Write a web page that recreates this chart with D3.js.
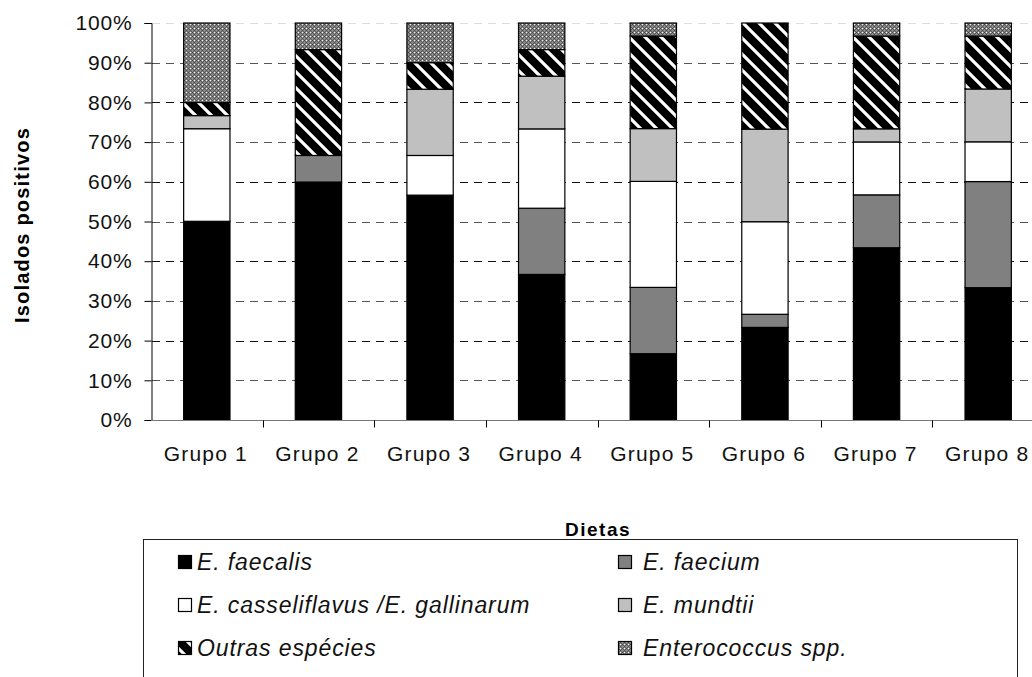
<!DOCTYPE html>
<html>
<head>
<meta charset="utf-8">
<script src="https://cdn.jsdelivr.net/npm/d3@7"></script>
<style>
  body { margin: 0; background: #fff; }
  svg { display: block; font-family: "Liberation Sans", Arial, sans-serif; }
</style>
</head>
<body>
<div id="chart"></div>
<script>
// categories and series (% of positive isolates)
const groups = ['Grupo 1', 'Grupo 2', 'Grupo 3', 'Grupo 4', 'Grupo 5', 'Grupo 6', 'Grupo 7', 'Grupo 8'];
const faecalis = [50, 60, 56.7, 36.7, 16.7, 23.3, 43.3, 33.3];
const faecium = [0, 6.7, 0, 16.7, 16.7, 3.3, 13.3, 26.7];
const casseliflavus = [23.3, 0, 10, 20, 26.7, 23.3, 13.3, 10];
const mundtii = [3.3, 0, 16.7, 13.3, 13.3, 23.3, 3.3, 13.3];
const outras = [3.3, 26.7, 6.7, 6.7, 23.3, 26.7, 23.3, 13.3];
const enteroSpp = [20, 6.7, 10, 6.7, 3.3, 0, 3.3, 3.3];
const yTicks = [0, 0.1, 0.2, 0.3, 0.4, 0.5, 0.6, 0.7, 0.8, 0.9, 1];

const seriesKeys = ['faecalis', 'faecium', 'cass', 'mundtii', 'outras', 'spp'];
const seriesNames = ['E. faecalis', 'E. faecium', 'E. casseliflavus /E. gallinarum', 'E. mundtii', 'Outras espécies', 'Enterococcus spp.'];

const table = groups.map((g, i) => ({
    group: g,
    faecalis: faecalis[i],
    faecium: faecium[i],
    cass: casseliflavus[i],
    mundtii: mundtii[i],
    outras: outras[i],
    spp: enteroSpp[i]
}));

const width = 1032;
const height = 677;

const svg = d3.select('#chart')
    .append('svg')
        .attr('width', width)
        .attr('height', height);

// patterns for the two hatched series
const defs = svg.append('defs');
const stripe = defs.append('pattern')
    .attr('id', 'stripes')
    .attr('patternUnits', 'userSpaceOnUse')
    .attr('width', 16)
    .attr('height', 16);
stripe.append('rect').attr('width', 16).attr('height', 16).attr('fill', '#000');
stripe.append('path')
    .attr('d', 'M-2,-2 L18,18 M-2,14 L2,18 M14,-2 L18,2')
    .attr('stroke', '#fff')
    .attr('stroke-width', 3.2);

const dots = defs.append('pattern')
    .attr('id', 'dots')
    .attr('patternUnits', 'userSpaceOnUse')
    .attr('width', 4)
    .attr('height', 4);
dots.append('rect').attr('width', 4).attr('height', 4).attr('fill', '#8a8a8a');
[[0, 0], [2, 2]].forEach(p => dots.append('rect').attr('x', p[0]).attr('y', p[1]).attr('width', 1).attr('height', 1).attr('fill', '#444'));
[[1, 1], [3, 3], [1, 3], [3, 1]].forEach(p => dots.append('rect').attr('x', p[0]).attr('y', p[1]).attr('width', 1).attr('height', 1).attr('fill', '#5c5c5c'));
dots.append('rect').attr('x', 2).attr('y', 0).attr('width', 1).attr('height', 1).attr('fill', '#fff');

const fills = {
    faecalis: '#000',
    faecium: '#808080',
    cass: '#fff',
    mundtii: '#c0c0c0',
    outras: 'url(#stripes)',
    spp: 'url(#dots)'
};

// scales
const xScale = d3.scaleBand()
    .domain(groups)
    .range([151, 1044])
    .padding(0);

const yScale = d3.scaleLinear()
    .domain([0, 1])
    .range([420, 23]);

const barW = xScale.bandwidth() * 0.415;

// gridlines
svg.append('g')
    .selectAll('line')
    .data(yTicks.filter(t => t > 0))
    .enter()
        .append('line')
            .attr('x1', 152)
            .attr('x2', width)
            .attr('y1', d => Math.round(yScale(d)) + 0.5)
            .attr('y2', d => Math.round(yScale(d)) + 0.5)
            .attr('stroke', (d, i) => d === 1 ? '#ddd' : (i % 2 === 0 ? '#555' : '#111'))
            .attr('stroke-dasharray', '8,6');

// stacked bars (100% stacked)
const stack = d3.stack().keys(seriesKeys).offset(d3.stackOffsetExpand);
const layers = stack(table);

svg.append('g')
    .selectAll('g')
    .data(layers)
    .enter()
        .append('g')
            .attr('fill', d => fills[d.key])
        .selectAll('rect')
        .data(d => d)
        .enter()
            .append('rect')
                .attr('x', d => xScale(d.data.group) + (xScale.bandwidth() - barW) / 2)
                .attr('y', d => yScale(d[1]))
                .attr('width', barW)
                .attr('height', d => yScale(d[0]) - yScale(d[1]))
                .attr('stroke', d => (d[1] - d[0]) > 0 ? '#000' : 'none')
                .attr('stroke-width', 1.2);

// y axis
const yAxis = svg.append('g')
    .attr('transform', 'translate(151.5,0)')
    .call(d3.axisLeft(yScale).tickValues(yTicks).tickFormat(d3.format('.0%')).tickSize(7).tickPadding(12));
yAxis.select('.domain').attr('stroke', '#000');
yAxis.selectAll('.tick line').attr('stroke', '#000');
yAxis.selectAll('text')
    .attr('font-size', 21)
    .attr('fill', '#111')
    .style('letter-spacing', '0.8px')
    .attr('font-family', '"Liberation Sans", Arial, sans-serif');

// x axis
const xAxis = svg.append('g')
    .attr('transform', 'translate(0,420.5)');
xAxis.append('line')
    .attr('x1', 151)
    .attr('x2', width)
    .attr('stroke', '#777');
xAxis.selectAll('.sep')
    .data(groups.slice(1))
    .enter()
        .append('line')
            .attr('class', 'sep')
            .attr('x1', d => Math.round(xScale(d)) + 0.5)
            .attr('x2', d => Math.round(xScale(d)) + 0.5)
            .attr('y1', 0)
            .attr('y2', 7)
            .attr('stroke', '#000');
xAxis.selectAll('.lab')
    .data(groups)
    .enter()
        .append('text')
            .attr('class', 'lab')
            .attr('x', d => xScale(d) + xScale.bandwidth() / 2 - 1)
            .attr('y', 40)
            .attr('text-anchor', 'middle')
            .attr('font-size', 21)
            .attr('fill', '#111')
            .style('letter-spacing', '1.2px')
            .text(d => d);

// axis titles
svg.append('text')
    .attr('transform', 'translate(29,225) rotate(-90)')
    .attr('text-anchor', 'middle')
    .attr('font-size', 20)
    .attr('font-weight', 'bold')
    .style('letter-spacing', '1.2px')
    .text('Isolados positivos');

svg.append('text')
    .attr('x', 598)
    .attr('y', 536)
    .attr('text-anchor', 'middle')
    .attr('font-size', 19)
    .attr('font-weight', 'bold')
    .style('letter-spacing', '1.5px')
    .text('Dietas');

// legend
const legend = svg.append('g');
legend.append('rect')
    .attr('x', 143.5)
    .attr('y', 539.5)
    .attr('width', 874)
    .attr('height', 160)
    .attr('fill', 'none')
    .attr('stroke', '#222');

const legendItems = legend.selectAll('.item')
    .data(seriesKeys)
    .enter()
        .append('g')
            .attr('class', 'item')
            .attr('transform', (d, i) => `translate(${i % 2 === 0 ? 178 : 618}, ${562 + Math.floor(i / 2) * 43})`);

legendItems.append('rect')
    .attr('x', 0.5)
    .attr('y', -6.5)
    .attr('width', 13)
    .attr('height', 13)
    .attr('fill', d => fills[d])
    .attr('stroke', '#000')
    .attr('stroke-width', 1.2);

legendItems.append('text')
    .attr('x', (d, i) => i % 2 === 0 ? 19 : 25)
    .attr('y', 8)
    .attr('font-size', 23)
    .attr('font-style', 'italic')
    .attr('fill', '#111')
    .style('letter-spacing', '0.9px')
    .text((d, i) => seriesNames[i]);
</script>
</body>
</html>
